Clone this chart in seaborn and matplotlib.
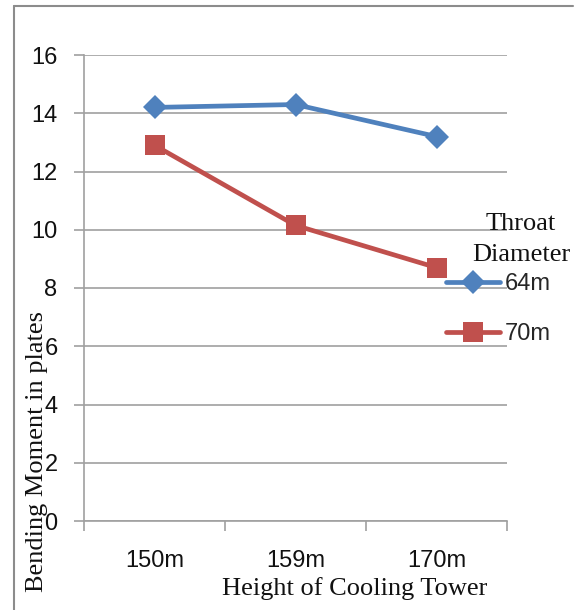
import matplotlib
matplotlib.use('Agg')
import matplotlib.pyplot as plt
from matplotlib.lines import Line2D
import pandas as pd
import seaborn as sns

heights = ['150m', '159m', '170m']
moment_64 = [14.2, 14.3, 13.2]
moment_70 = [12.9, 10.15, 8.7]
series_names = ['64m', '70m']
y_ticks = [0, 2, 4, 6, 8, 10, 12, 14, 16]

df = pd.DataFrame({
    'height': heights * 2,
    'moment': moment_64 + moment_70,
    'diameter': [series_names[0]] * 3 + [series_names[1]] * 3,
})

sns.set_theme(style='white')
plt.rcParams['font.family'] = ['Liberation Sans', 'DejaVu Sans']

W, H = 578, 610
fig = plt.figure(figsize=(W / 100, H / 100), dpi=100)
ax = fig.add_axes([84 / W, 89 / H, 423 / W, 466 / H])

grid = '#a0a0a0'
palette = {'64m': '#4F81BD', '70m': '#C0504D'}
sns.lineplot(data=df, x='height', y='moment', hue='diameter', style='diameter',
             markers={'64m': 'D', '70m': 's'}, dashes=False, palette=palette,
             lw=3.4, markeredgewidth=0, ax=ax, legend=False, sort=False)
for line in ax.lines:
    if line.get_marker() == 'D':
        line.set_markersize(12)
    else:
        line.set_markersize(14)

ax.set_xlim(-0.5, 2.5)
ax.set_ylim(0, 16)
ax.set_yticks(y_ticks)
ax.set_xticks([0, 1, 2])
ax.set_xticklabels(heights)
ax.set_xticks([-0.5, 0.5, 1.5, 2.5], minor=True)
ax.tick_params(axis='x', which='major', length=0, pad=21, labelsize=17, labelcolor='#111111')
ax.tick_params(axis='x', which='minor', length=7, color=grid, width=1.2,
               direction='out', bottom=True)
ax.tick_params(axis='y', length=7, color=grid, width=1.2, pad=12, labelsize=17,
               left=True, direction='out', labelcolor='#111111')
ax.yaxis.grid(True, color=grid, lw=1.2)
ax.xaxis.grid(False)
ax.set_axisbelow(True)
for s in ['top', 'right']:
    ax.spines[s].set_visible(False)
for s in ['left', 'bottom']:
    ax.spines[s].set_color(grid)
    ax.spines[s].set_linewidth(1.2)
ax.set_xlabel('')
ax.set_ylabel('')

serif = ['Liberation Serif', 'DejaVu Serif']
fig.text(355 / W, 1 - 595 / H, 'Height of Cooling Tower', ha='center', va='baseline',
         family=serif, size=19, color='#111111')
fig.text(37 / W, 1 - 452 / H, 'Bending Moment in plates', rotation=90, ha='center',
         va='center', family=serif, size=19, color='#111111')
fig.text(521 / W, 1 - 230 / H, 'Throat', ha='center', va='baseline', family=serif,
         size=19, color='#111111')
fig.text(521 / W, 1 - 261 / H, 'Diameter', ha='center', va='baseline', family=serif,
         size=19, color='#111111')

handles = list(ax.lines)
fig.legend(handles, series_names, loc='center left',
           bbox_to_anchor=(446 / W, 1 - 309 / H), frameon=False, borderpad=0,
           borderaxespad=0, handlelength=2.3, handletextpad=0.2, labelspacing=1.2,
           fontsize=17)

fig.add_artist(Line2D([14 / W, 14 / W], [0, 1 - 6 / H], transform=fig.transFigure,
                      color='#8c8c8c', lw=1.5))
fig.add_artist(Line2D([14 / W, 573 / W], [1 - 6 / H, 1 - 6 / H], transform=fig.transFigure,
                      color='#8c8c8c', lw=1.5))

fig.savefig('out.png', dpi=100)
